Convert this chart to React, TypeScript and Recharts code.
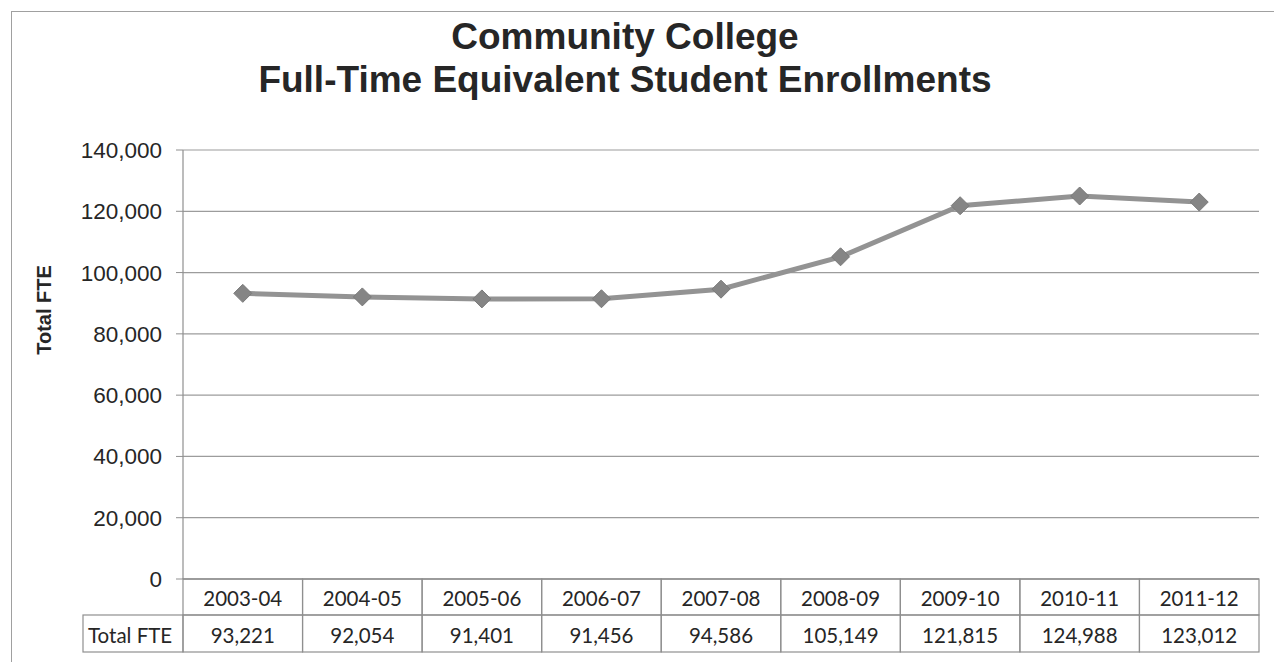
import React from 'react';
import { LineChart, Line, XAxis, YAxis, CartesianGrid } from 'recharts';

// Academic years shown along the category axis / data table
const CATEGORIES = ['2003-04', '2004-05', '2005-06', '2006-07', '2007-08', '2008-09', '2009-10', '2010-11', '2011-12'];
// Full-time equivalent enrollments per year
const TOTAL_FTE = [93221, 92054, 91401, 91456, 94586, 105149, 121815, 124988, 123012];
// Value axis ticks
const Y_TICKS = [0, 20000, 40000, 60000, 80000, 100000, 120000, 140000];

const SERIES_NAME = 'Total FTE';
const TITLE_LINES = ['Community College', 'Full-Time Equivalent Student Enrollments'];

const data = CATEGORIES.map((year, i) => ({ year, fte: TOTAL_FTE[i] }));

// Chart geometry
const W = 1274;
const H = 662;
const PLOT_LEFT = 183;
const PLOT_RIGHT = 1259;
const PLOT_TOP = 150;
const PLOT_BOTTOM = 579;
const PLOT_W = PLOT_RIGHT - PLOT_LEFT;
const COL_W = PLOT_W / CATEGORIES.length;
const ROW1_H = 36;
const ROW2_H = 37;
const HEADER_LEFT = 83;

const TEXT = '#262626';
const BORDER = '#8f8f8f';
const GRID = '#9c9c9c';
const LINE = '#939393';
const DOT = '#858585';

const fmt = (v: number) => v.toLocaleString('en-US');

const TABLE_FONT = 'Lato, "Open Sans", sans-serif';

function TableTick(props: any) {
  const { x, payload } = props;
  const idx = CATEGORIES.indexOf(payload.value);
  const left = x - COL_W / 2;
  const row2Top = PLOT_BOTTOM + ROW1_H;
  return (
    <g>
      {idx === 0 && (
        <g>
          <rect x={HEADER_LEFT} y={row2Top} width={PLOT_LEFT - HEADER_LEFT} height={ROW2_H} fill="none" stroke={BORDER} strokeWidth={1.2} />
          <text x={HEADER_LEFT + 5} y={row2Top + ROW2_H / 2 + 1} dominantBaseline="central" fontFamily={TABLE_FONT} fontSize={20.5} fill={TEXT}>
            {SERIES_NAME}
          </text>
        </g>
      )}
      <rect x={left} y={PLOT_BOTTOM} width={COL_W} height={ROW1_H} fill="none" stroke={BORDER} strokeWidth={1.2} />
      <text x={x} y={PLOT_BOTTOM + ROW1_H / 2 + 1} textAnchor="middle" dominantBaseline="central" fontFamily={TABLE_FONT} fontSize={20.5} fill={TEXT}>
        {payload.value}
      </text>
      <rect x={left} y={row2Top} width={COL_W} height={ROW2_H} fill="none" stroke={BORDER} strokeWidth={1.2} />
      <text x={x} y={row2Top + ROW2_H / 2 + 1} textAnchor="middle" dominantBaseline="central" fontFamily={TABLE_FONT} fontSize={20.5} fill={TEXT}>
        {idx >= 0 ? fmt(TOTAL_FTE[idx]) : ''}
      </text>
    </g>
  );
}

function Diamond(props: any) {
  const { cx, cy, index } = props;
  if (cx == null || cy == null) return <g key={`d-${index}`} />;
  const r = 9;
  return (
    <polygon
      key={`d-${index}`}
      points={`${cx},${cy - r} ${cx + r},${cy} ${cx},${cy + r} ${cx - r},${cy}`}
      fill={DOT}
      stroke="#7a7a7a"
      strokeWidth={1}
    />
  );
}

export default function App() {
  return (
    <div
      style={{
        position: 'absolute',
        left: 0,
        top: 0,
        width: W,
        height: H,
        background: '#ffffff',
        overflow: 'hidden',
        fontFamily: 'Arial, "Liberation Sans", sans-serif',
      }}
    >
      {/* chart frame */}
      <div
        style={{
          position: 'absolute',
          left: 11,
          top: 11,
          width: W + 20,
          height: H + 20,
          borderTop: '1.5px solid #a0a0a0',
          borderLeft: '1.5px solid #a0a0a0',
        }}
      />
      <div
        style={{
          position: 'absolute',
          left: 0,
          top: 15,
          width: 1250,
          textAlign: 'center',
          fontWeight: 'bold',
          fontSize: 37,
          lineHeight: '43px',
          color: TEXT,
        }}
      >
        {TITLE_LINES.map((t) => (
          <div key={t}>{t}</div>
        ))}
      </div>
      <div
        style={{
          position: 'absolute',
          left: 44,
          top: 310,
          transform: 'translate(-50%, -50%) rotate(-90deg)',
          whiteSpace: 'nowrap',
          fontWeight: 'bold',
          fontSize: 20,
          color: TEXT,
        }}
      >
        {SERIES_NAME}
      </div>
      <div style={{ position: 'absolute', left: 0, top: 0 }}>
        <LineChart
          width={W}
          height={H}
          data={data}
          margin={{ top: PLOT_TOP, right: W - PLOT_RIGHT, bottom: 0, left: 0 }}
        >
          <CartesianGrid vertical={false} stroke={GRID} strokeWidth={1.2} />
          <XAxis
            dataKey="year"
            interval={0}
            height={H - PLOT_BOTTOM}
            padding={{ left: COL_W / 2, right: COL_W / 2 }}
            tickLine={false}
            axisLine={{ stroke: BORDER }}
            tick={<TableTick />}
          />
          <YAxis
            width={PLOT_LEFT}
            domain={[0, 140000]}
            ticks={Y_TICKS}
            interval={0}
            tickFormatter={fmt}
            tickSize={7}
            tickMargin={14}
            axisLine={{ stroke: BORDER, strokeWidth: 1.2 }}
            tickLine={{ stroke: BORDER }}
            tick={{ fill: TEXT, fontSize: 22.5, fontFamily: 'Arial, "Liberation Sans", sans-serif' }}
          />
          <Line
            type="linear"
            dataKey="fte"
            name={SERIES_NAME}
            stroke={LINE}
            strokeWidth={5}
            dot={Diamond}
            activeDot={false}
            isAnimationActive={false}
          />
        </LineChart>
      </div>
    </div>
  );
}
